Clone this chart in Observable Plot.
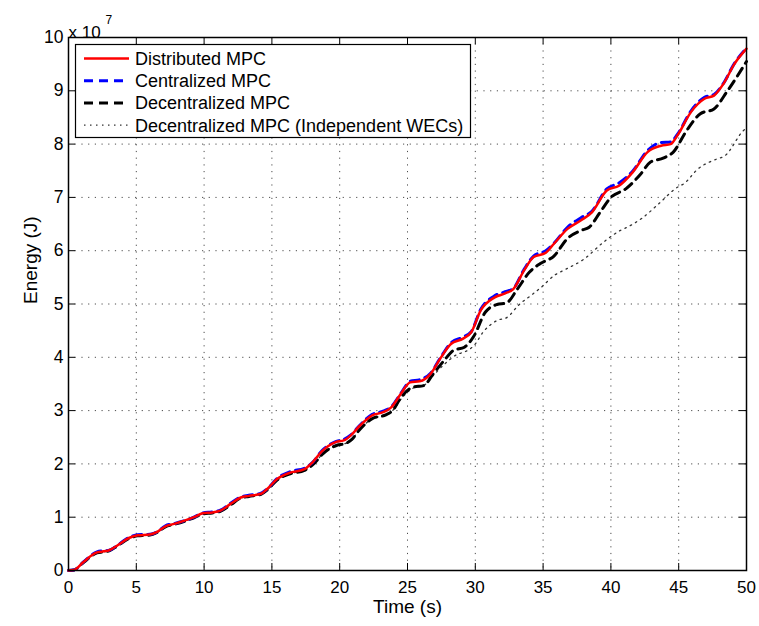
<!DOCTYPE html>
<html><head><meta charset="utf-8">
<script src="https://cdn.jsdelivr.net/npm/d3@7"></script>
<script src="https://cdn.jsdelivr.net/npm/@observablehq/plot@0.6"></script>
<style>body{margin:0;background:#fff;} #chart{width:759px;height:626px;}</style>
</head><body><div id="chart"></div>
<script>
const xTicks = [0,5,10,15,20,25,30,35,40,45,50];
const yTicks = [0,1,2,3,4,5,6,7,8,9,10];
const seriesNames = ["Distributed MPC","Centralized MPC","Decentralized MPC","Decentralized MPC (Independent WECs)"];

// Distributed MPC (red solid), energy in units of 1e7 J
const tDist = [0,0.4,1.1,2.1,2.6,3.0,3.6,4.45,5.1,6.0,6.5,7.15,7.8,8.5,9.25,9.9,10.6,11.2,11.95,12.7,13.3,14.2,14.65,15.4,16.4,17.4,18.0,18.7,19.7,20.3,20.8,21.5,22.4,23.2,23.8,24.5,25.2,25.9,26.7,27.4,28.2,29.1,29.7,30.4,31.4,32.2,32.8,33.6,34.3,35.2,35.8,36.8,37.8,38.6,39.7,40.6,41.6,42.7,43.7,44.4,44.9,45.9,46.9,47.6,48.3,49.1,50];
const eDist = [0,0.01,0.16,0.34,0.36,0.38,0.47,0.61,0.66,0.675,0.72,0.83,0.875,0.93,1.0,1.075,1.09,1.125,1.25,1.37,1.4,1.44,1.53,1.72,1.84,1.9,2.03,2.24,2.41,2.44,2.53,2.72,2.91,2.97,3.06,3.31,3.53,3.55,3.69,3.97,4.25,4.35,4.47,4.88,5.12,5.2,5.28,5.63,5.88,5.96,6.13,6.41,6.57,6.72,7.13,7.22,7.47,7.85,7.97,8.0,8.16,8.6,8.85,8.91,9.13,9.5,9.79];

// Centralized MPC (blue dashed)
const tCent = tDist;
const eCent = [0,0.01,0.16,0.35,0.37,0.38,0.47,0.62,0.67,0.68,0.72,0.84,0.88,0.93,1.0,1.08,1.1,1.13,1.26,1.38,1.41,1.45,1.53,1.73,1.86,1.92,2.03,2.25,2.42,2.46,2.54,2.73,2.93,2.99,3.07,3.32,3.55,3.58,3.7,3.98,4.27,4.38,4.48,4.9,5.15,5.23,5.29,5.65,5.9,6.0,6.14,6.44,6.62,6.74,7.16,7.27,7.49,7.88,8.03,8.04,8.18,8.62,8.88,8.93,9.14,9.51,9.8];

// Decentralized MPC (black dashed)
const tDec = [0,0.4,1.1,2.1,2.6,3.0,3.6,4.45,5.1,6.0,6.5,7.15,7.8,8.5,9.25,9.9,10.6,11.2,11.95,12.7,13.3,14.2,14.65,15.4,16.4,17.4,18.0,18.8,19.8,20.4,20.9,21.4,22.4,23.4,23.9,24.5,25.4,26.2,26.9,27.7,28.4,29.2,29.9,30.75,31.6,32.3,33.1,34.0,34.8,35.8,36.8,37.8,38.4,39.2,40.0,41.1,42.2,42.9,43.9,44.6,45.6,46.6,47.6,48.6,50];
const eDec = [0,0.01,0.15,0.33,0.35,0.37,0.46,0.6,0.65,0.665,0.71,0.82,0.865,0.92,0.99,1.06,1.08,1.11,1.23,1.36,1.39,1.43,1.51,1.7,1.82,1.88,1.98,2.2,2.35,2.38,2.46,2.62,2.85,2.92,3.0,3.24,3.44,3.47,3.69,3.94,4.13,4.19,4.4,4.85,4.99,5.02,5.28,5.6,5.76,5.9,6.23,6.38,6.44,6.72,7.0,7.16,7.44,7.66,7.74,7.85,8.26,8.57,8.66,9.0,9.55];

// Decentralized MPC, independent WECs (grey dotted)
const tInd = [0,0.4,1.1,2.1,2.6,3.0,3.6,4.45,5.1,6.0,6.5,7.15,7.8,8.5,9.25,9.9,10.6,11.2,11.95,12.7,13.3,14.2,14.65,15.4,16.4,17.4,18.0,18.8,19.8,20.4,20.9,21.4,22.4,23.4,23.9,24.6,25.4,26.2,26.9,27.9,28.7,29.2,29.9,30.6,31.6,32.35,33.2,34.1,34.8,35.9,36.5,38.0,39.5,40.7,41.2,42.4,43.4,44.9,45.4,46.4,47.8,48.4,49.8,50];
const eInd = [0,0.01,0.15,0.33,0.35,0.37,0.46,0.6,0.65,0.665,0.71,0.82,0.865,0.92,0.99,1.06,1.08,1.11,1.23,1.36,1.39,1.43,1.51,1.7,1.82,1.88,1.98,2.2,2.35,2.38,2.46,2.62,2.85,2.92,3.0,3.24,3.42,3.47,3.66,3.91,4.06,4.1,4.22,4.48,4.69,4.75,4.98,5.16,5.3,5.55,5.63,5.84,6.17,6.38,6.44,6.63,6.85,7.19,7.26,7.53,7.72,7.78,8.26,8.3];

const toRows = (ts, es) => ts.map((t, i) => ({t, e: es[i]}));
const dist = toRows(tDist, eDist);
const cent = toRows(tCent, eCent);
const dec = toRows(tDec, eDec);
const ind = toRows(tInd, eInd);

const W = 759, H = 626, mL = 68, mR = 13, mT = 37, mB = 56;
const innerW = W - mL - mR, innerH = H - mT - mB;
const font = "'Liberation Sans', Arial, Helvetica, sans-serif";

const chart = Plot.plot({
  width: W, height: H,
  marginLeft: mL, marginRight: mR, marginTop: mT, marginBottom: mB,
  style: {fontFamily: font, fontSize: "17px", background: "white", color: "black", overflow: "visible"},
  x: {domain: [0, 50]},
  y: {domain: [0, 10]},
  marks: [
    Plot.gridX(xTicks.slice(1, -1), {stroke: "#000", strokeOpacity: 0.7, strokeWidth: 1, strokeDasharray: "1.2,5.5"}),
    Plot.gridY(yTicks.slice(1, -1), {stroke: "#000", strokeOpacity: 0.7, strokeWidth: 1, strokeDasharray: "1.2,5.5"}),
    Plot.line(ind, {x: "t", y: "e", stroke: "#333", strokeWidth: 1.3, strokeDasharray: "1.5,4.5", curve: "monotone-x"}),
    Plot.line(dec, {x: "t", y: "e", stroke: "#000", strokeWidth: 3, strokeDasharray: "9,6", curve: "monotone-x"}),
    Plot.line(cent, {x: "t", y: "e", stroke: "#0000ff", strokeWidth: 3, strokeDasharray: "9,6", curve: "monotone-x"}),
    Plot.line(dist, {x: "t", y: "e", stroke: "#ff0000", strokeWidth: 2.5, curve: "monotone-x"}),
    Plot.tickX(xTicks, {x: d => d, insetTop: innerH - 7, stroke: "black"}),
    Plot.tickX(xTicks, {x: d => d, insetBottom: innerH - 7, stroke: "black"}),
    Plot.tickY(yTicks, {y: d => d, insetRight: innerW - 7, stroke: "black"}),
    Plot.tickY(yTicks, {y: d => d, insetLeft: innerW - 7, stroke: "black"}),
    Plot.frame({stroke: "black", strokeWidth: 1.5}),
    Plot.axisX({ticks: xTicks, tickSize: 0, tickPadding: 10, label: null, fontSize: 17}),
    Plot.axisY({ticks: yTicks, tickSize: 0, tickPadding: 5, label: null, fontSize: 17.5}),
    Plot.text(["Time (s)"], {frameAnchor: "bottom", lineAnchor: "top", dy: 29, fontSize: 19}),
    Plot.text(["Energy (J)"], {frameAnchor: "left", dx: -38, rotate: -90, fontSize: 19}),
    Plot.text(["x 10"], {frameAnchor: "top-left", dy: -12, textAnchor: "start", fontSize: 17}),
    Plot.text(["7"], {frameAnchor: "top-left", dx: 37, dy: -22, textAnchor: "start", fontSize: 12})
  ]
});
document.getElementById("chart").appendChild(chart);

// Legend box inside the axes (top-left)
const svg = d3.select(chart);
const lg = svg.append("g").attr("font-family", font).attr("font-size", 18).attr("text-anchor", "start");
lg.append("rect").attr("x", 75.5).attr("y", 44.5).attr("width", 395).attr("height", 93)
  .attr("fill", "white").attr("stroke", "black").attr("stroke-width", 1.2);
const legendStyles = [
  {stroke: "#ff0000", width: 2.5, dash: null},
  {stroke: "#0000ff", width: 3, dash: "9,6"},
  {stroke: "#000", width: 3, dash: "9,6"},
  {stroke: "#333", width: 1.3, dash: "1.5,4.5"}
];
seriesNames.forEach((name, i) => {
  const y = 58.5 + i * 22.2;
  const s = legendStyles[i];
  const ln = lg.append("line").attr("x1", 84).attr("x2", 129).attr("y1", y).attr("y2", y)
    .attr("stroke", s.stroke).attr("stroke-width", s.width);
  if (s.dash) ln.attr("stroke-dasharray", s.dash);
  lg.append("text").attr("x", 135).attr("y", y).attr("dy", "0.36em").attr("text-anchor", "start").attr("fill", "black").text(name);
});
</script>
</body></html>
